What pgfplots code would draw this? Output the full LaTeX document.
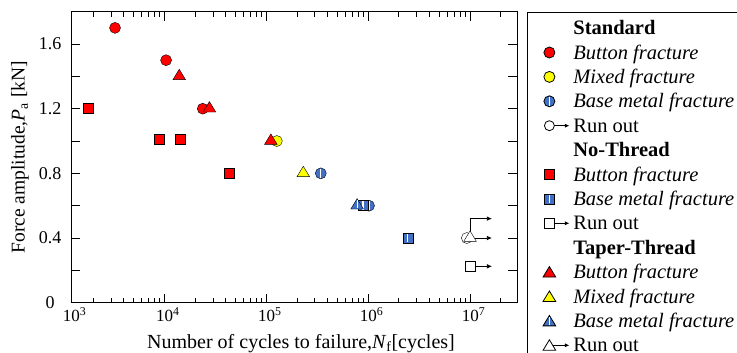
\documentclass[border=0pt]{standalone}
\usepackage{fontspec}
\setmainfont{Liberation Serif}
\usepackage{pgfplots}
\pgfplotsset{compat=1.18}
\usetikzlibrary{arrows.meta}

\definecolor{mred}{RGB}{255,0,0}
\definecolor{myel}{RGB}{255,255,0}
\definecolor{mblue}{RGB}{66,112,196}

\newcommand{\whitestripe}[2]{%
  \pgfscope
  \pgfsetstrokecolor{white}\pgfsetlinewidth{1.3pt}%
  \pgfpathmoveto{\pgfpoint{0pt}{#1\pgfplotmarksize}}%
  \pgfpathlineto{\pgfpoint{0pt}{#2\pgfplotmarksize}}%
  \pgfusepathqstroke
  \endpgfscope}
% base-metal marks: blue with white vertical stripe
\pgfdeclareplotmark{bmcirc}{%
  \pgfpathcircle{\pgfpointorigin}{\pgfplotmarksize}%
  \pgfusepathqfillstroke
  \whitestripe{-0.85}{0.85}}
\pgfdeclareplotmark{sq}{%
  \pgfpathrectangle{\pgfpoint{-\pgfplotmarksize}{-\pgfplotmarksize}}{\pgfpoint{2\pgfplotmarksize}{2\pgfplotmarksize}}%
  \pgfusepathqfillstroke}
\pgfdeclareplotmark{bmsq}{%
  \pgfpathrectangle{\pgfpoint{-\pgfplotmarksize}{-\pgfplotmarksize}}{\pgfpoint{2\pgfplotmarksize}{2\pgfplotmarksize}}%
  \pgfusepathqfillstroke
  \whitestripe{-0.85}{0.85}}
\pgfdeclareplotmark{tri}{%
  \pgfpathmoveto{\pgfpoint{0pt}{1.0\pgfplotmarksize}}%
  \pgfpathlineto{\pgfpoint{-1.15\pgfplotmarksize}{-0.9\pgfplotmarksize}}%
  \pgfpathlineto{\pgfpoint{1.15\pgfplotmarksize}{-0.9\pgfplotmarksize}}%
  \pgfpathclose
  \pgfusepathqfillstroke}
\pgfdeclareplotmark{bmtri}{%
  \pgfpathmoveto{\pgfpoint{0pt}{1.0\pgfplotmarksize}}%
  \pgfpathlineto{\pgfpoint{-1.15\pgfplotmarksize}{-0.9\pgfplotmarksize}}%
  \pgfpathlineto{\pgfpoint{1.15\pgfplotmarksize}{-0.9\pgfplotmarksize}}%
  \pgfpathclose
  \pgfusepathqfillstroke
  \whitestripe{-0.8}{0.7}}

\pgfplotsset{
  mk/.style={only marks, mark options={draw=black, line width=0.6pt, solid}},
  runout legend/.style={legend image code/.code={
    \path[draw=none, fill=none] (0pt,-2pt) rectangle (29pt,2pt);
    \draw[line width=0.7pt, draw=black, fill=black, -{Latex[length=4.5pt,width=4pt]}] (12pt,0pt) -- (28.5pt,0pt);
    \draw[##1] plot coordinates {(8.5pt,0pt)};
  }},
}

\begin{document}
\begin{tikzpicture}[font=\fontsize{18}{21}\selectfont]
\useasboundingbox (0pt,0pt) rectangle (737pt,353pt);
\clip (0pt,0pt) rectangle (737pt,353pt);
\begin{axis}[
  at={(71pt,50.3pt)}, anchor=south west,
  width=446pt, height=291pt, scale only axis,
  xmode=log, xmin=1213, xmax=2.89e7,
  ymin=0, ymax=1.8,
  xtick={1213,1e4,1e5,1e6,1e7},
  xticklabels={10\textsuperscript{3},10\textsuperscript{4},10\textsuperscript{5},10\textsuperscript{6},10\textsuperscript{7}},
  minor xtick={2e3,3e3,4e3,5e3,6e3,7e3,8e3,9e3,2e4,3e4,4e4,5e4,6e4,7e4,8e4,9e4,2e5,3e5,4e5,5e5,6e5,7e5,8e5,9e5,2e6,3e6,4e6,5e6,6e6,7e6,8e6,9e6,2e7},
  ytick={0,0.2,0.4,0.6,0.8,1.0,1.2,1.4,1.6},
  yticklabels={0,,0.4,,0.8,,1.2,,1.6},
  yticklabel style={anchor=center, xshift=-21pt},
  xticklabel style={font=\fontsize{17}{20}\selectfont, xshift=3.5pt, yshift=-1pt},
  tick align=inside,
  major tick length=9pt, minor tick length=5pt,
  every tick/.style={black, line width=0.8pt},
  axis line style={line width=1pt},
  xlabel={Number of cycles to failure,\textit{N}\textsubscript{f}[cycles]},
  ylabel={Force amplitude,\textit{P}\textsubscript{a} [kN]},
  xlabel style={font=\fontsize{20}{24}\selectfont, at={(axis description cs:0.5157,-0.1557)}, anchor=base},
  ylabel style={font=\fontsize{19.5}{24}\selectfont, at={(axis description cs:-0.1143,0.5)}, anchor=center},
  clip=false,
  legend style={at={(1.0224,1)}, anchor=north west, draw=black, line width=0.8pt,
    fill=white, inner xsep=13.5pt, inner ysep=3.8pt, row sep=0pt,
    font=\fontsize{20.5}{24}\selectfont,
    cells={anchor=west},
    nodes={inner xsep=3.5pt, inner ysep=0pt, text height=18.7pt, text depth=5.7pt}},
  legend image code/.code={
    \path[draw=none, fill=none] (0pt,-2pt) rectangle (29pt,2pt);
    \draw[#1] plot coordinates {(8.5pt,0pt)};
  },
]
% run-out arrows
\addplot[forget plot, line width=0.7pt, -{Latex[length=5pt,width=4.5pt]}] coordinates {(1.0e7,0.4) (1.64e7,0.4)};
\addplot[forget plot, line width=0.7pt, -{Latex[length=5pt,width=4.5pt]}] coordinates {(1.0e7,0.43) (1.0e7,0.52) (1.64e7,0.52)};
\addplot[forget plot, line width=0.7pt, -{Latex[length=5pt,width=4.5pt]}] coordinates {(1.0e7,0.225) (1.64e7,0.225)};

% Standard (circles)
\addplot[forget plot, mk, mark=*, mark size=5.5pt, mark options={fill=mred}] coordinates {(3.28e3,1.70) (1.04e4,1.50) (2.38e4,1.20)};
\addplot[forget plot, mk, mark=*, mark size=5.5pt, mark options={fill=myel}] coordinates {(1.27e5,1.00)};
\addplot[forget plot, mk, mark=bmcirc, mark size=5.5pt, mark options={fill=mblue}] coordinates {(3.43e5,0.80) (1.02e6,0.60)};
\addplot[forget plot, mk, mark=*, mark size=5.5pt, mark options={fill=white}] coordinates {(9.3e6,0.40)};
% No-Thread (squares)
\addplot[forget plot, mk, mark=sq, mark size=5pt, mark options={fill=mred}] coordinates {(1.80e3,1.20) (8.93e3,1.01) (1.44e4,1.01) (4.32e4,0.80)};
\addplot[forget plot, mk, mark=bmsq, mark size=5pt, mark options={fill=mblue}] coordinates {(8.9e5,0.60) (2.45e6,0.40)};
\addplot[forget plot, mk, mark=sq, mark size=5pt, mark options={fill=white}] coordinates {(1.0e7,0.225)};
% Taper-Thread (triangles)
\addplot[forget plot, mk, mark=tri, mark size=5.5pt, mark options={fill=mred}] coordinates {(1.40e4,1.41) (2.77e4,1.21) (1.11e5,1.01)};
\addplot[forget plot, mk, mark=tri, mark size=5.5pt, mark options={fill=myel}] coordinates {(2.31e5,0.81)};
\addplot[forget plot, mk, mark=bmtri, mark size=5.5pt, mark options={fill=mblue}] coordinates {(7.8e5,0.61)};
\addplot[forget plot, mk, mark=tri, mark size=5.5pt, mark options={fill=white}] coordinates {(1.0e7,0.41)};

% legend
\addlegendimage{empty legend}\addlegendentry{\textbf{Standard}}
\addlegendimage{mk, mark=*, mark size=5.5pt, mark options={fill=mred}}\addlegendentry{\textit{Button fracture}}
\addlegendimage{mk, mark=*, mark size=5.5pt, mark options={fill=myel}}\addlegendentry{\textit{Mixed fracture}}
\addlegendimage{mk, mark=bmcirc, mark size=5.5pt, mark options={fill=mblue}}\addlegendentry{\textit{Base metal fracture}}
\addlegendimage{runout legend, mk, mark=*, mark size=5pt, mark options={fill=white}}\addlegendentry{Run out}
\addlegendimage{empty legend}\addlegendentry{\textbf{No-Thread}}
\addlegendimage{mk, mark=sq, mark size=5pt, mark options={fill=mred}}\addlegendentry{\textit{Button fracture}}
\addlegendimage{mk, mark=bmsq, mark size=5pt, mark options={fill=mblue}}\addlegendentry{\textit{Base metal fracture}}
\addlegendimage{runout legend, mk, mark=sq, mark size=5pt, mark options={fill=white}}\addlegendentry{Run out}
\addlegendimage{empty legend}\addlegendentry{\textbf{Taper-Thread}}
\addlegendimage{mk, mark=tri, mark size=5.5pt, mark options={fill=mred}}\addlegendentry{\textit{Button fracture}}
\addlegendimage{mk, mark=tri, mark size=5.5pt, mark options={fill=myel}}\addlegendentry{\textit{Mixed fracture}}
\addlegendimage{mk, mark=bmtri, mark size=5.5pt, mark options={fill=mblue}}\addlegendentry{\textit{Base metal fracture}}
\addlegendimage{runout legend, mk, mark=tri, mark size=5.5pt, mark options={fill=white}}\addlegendentry{Run out}
\end{axis}
\end{tikzpicture}
\end{document}
